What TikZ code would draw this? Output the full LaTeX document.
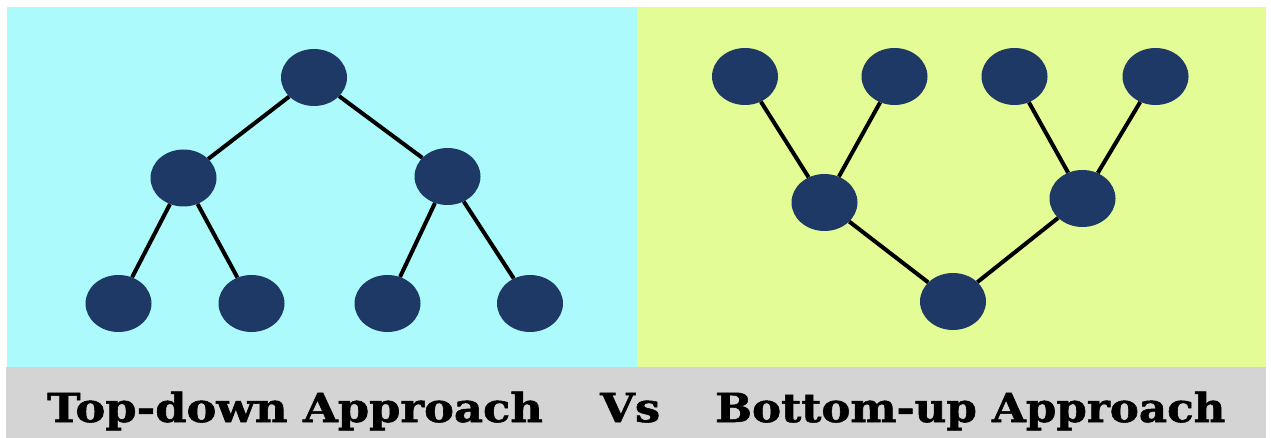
\documentclass[tikz,border=0pt]{standalone}
\usepackage{fontspec}
\setmainfont{DejaVu Serif}
\newfontfamily\heavyserif[FakeBold=1.3]{DejaVu Serif Bold}
\usetikzlibrary{shapes.geometric}
\definecolor{panelcyan}{RGB}{172,250,251}
\definecolor{panelyellow}{RGB}{227,252,149}
\definecolor{bargray}{RGB}{212,212,212}
\definecolor{nodeblue}{RGB}{31,57,102}
\newcommand{\widecap}[2]{\scalebox{#1}[1]{#2}}
\tikzset{
  vertex/.style={ellipse, fill=nodeblue, draw=none, minimum width=66pt, minimum height=57pt, inner sep=0pt},
  link/.style={draw=black, line width=4pt},
  caption/.style={font=\fontsize{40}{40}\selectfont\heavyserif, anchor=base west, inner sep=0pt}
}
\begin{document}
\begin{tikzpicture}[x=1pt, y=-1pt]
  \useasboundingbox (0,0) rectangle (1271,438);
  \fill[white] (0,0) rectangle (1271,438);
  % backgrounds
  \fill[panelcyan] (7,7) rectangle (637,367);
  \fill[panelyellow] (637,7) rectangle (1266,367);
  \fill[bargray] (6,367) rectangle (1266,438);

  % top-down tree
  \node[vertex] (r)  at (314,77.5) {};
  \node[vertex] (a)  at (183.5,178) {};
  \node[vertex] (b)  at (447.5,176.5) {};
  \node[vertex] (a1) at (118.5,303.5) {};
  \node[vertex] (a2) at (251.5,303.5) {};
  \node[vertex] (b1) at (387.5,303.5) {};
  \node[vertex] (b2) at (530,303.5) {};

  % bottom-up tree
  \node[vertex] (t1) at (745,76.5) {};
  \node[vertex] (t2) at (894.5,76.5) {};
  \node[vertex] (t3) at (1014.5,76.5) {};
  \node[vertex] (t4) at (1155.5,76.5) {};
  \node[vertex] (m1) at (824.5,202.5) {};
  \node[vertex] (m2) at (1082.5,198.5) {};
  \node[vertex] (bt) at (953,301.5) {};

  % connectors between vertex borders
  \path[link] (r) -- (a) (r) -- (b) (a) -- (a1) (a) -- (a2) (b) -- (b1) (b) -- (b2);
  \path[link] (t1) -- (m1) (t2) -- (m1) (t3) -- (m2) (t4) -- (m2) (m1) -- (bt) (m2) -- (bt);

  % captions
  \node[caption] (c1) at (47,422) {\widecap{1.12}{Top-down Approach}};
  \node[caption] (c2) at (600,422) {\widecap{1.12}{Vs}};
  \node[caption] (c3) at (715,422) {\widecap{1.09}{Bottom-up Approach}};
\end{tikzpicture}
\end{document}
